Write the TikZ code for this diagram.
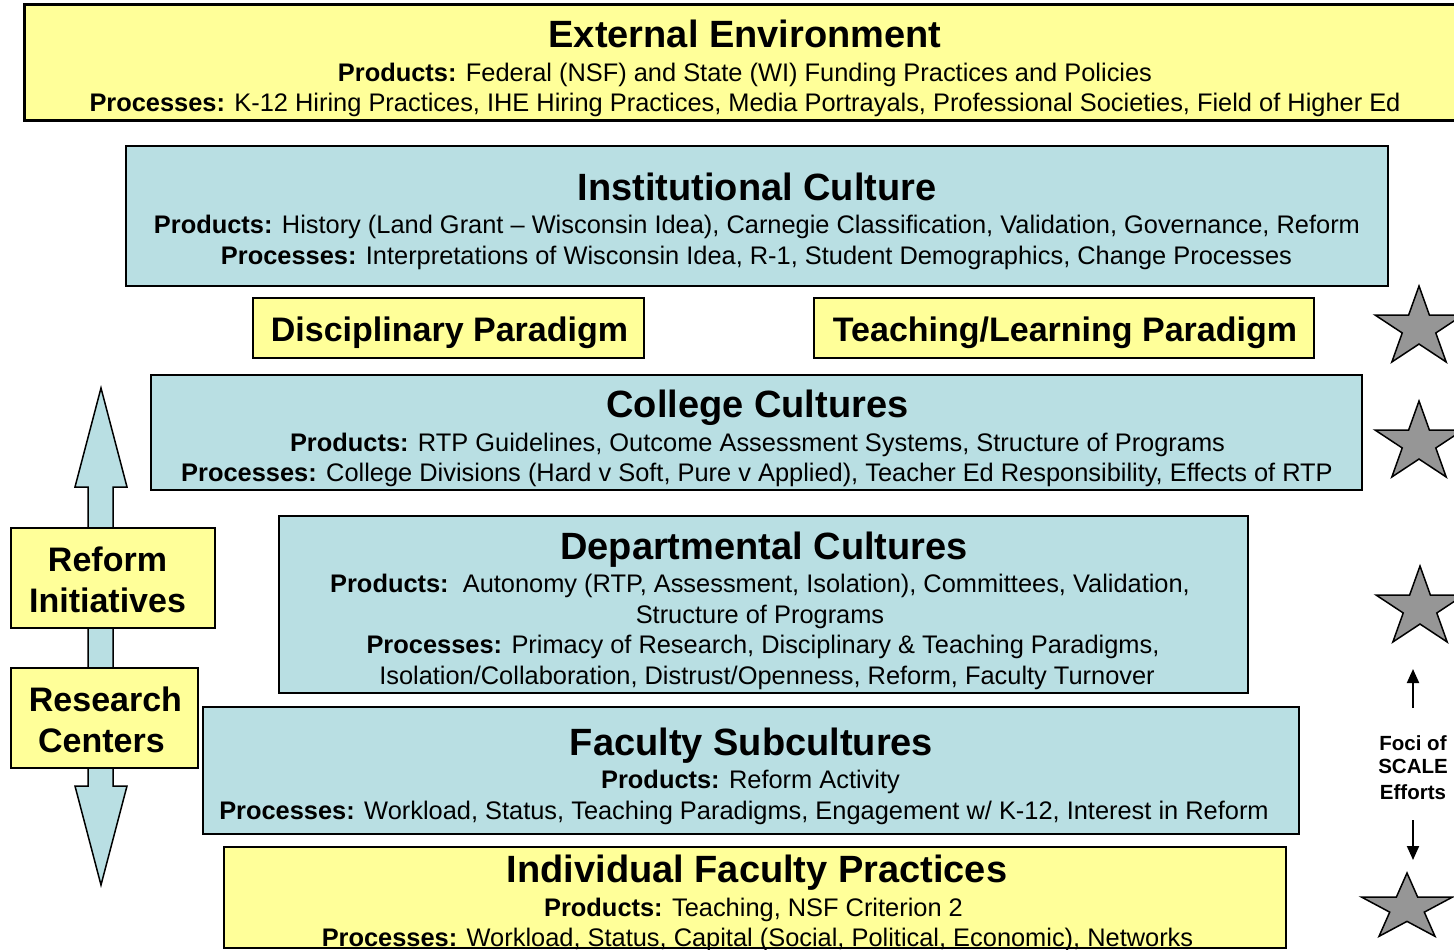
\documentclass[tikz,border=0pt]{standalone}
\usepackage{fontspec}
\setmainfont{Liberation Sans}
\usetikzlibrary{arrows.meta}
\definecolor{yel}{RGB}{255,255,153}
\definecolor{lblue}{RGB}{185,223,227}
\definecolor{stargray}{RGB}{150,150,150}
\newcommand{\titlef}{\fontsize{38}{40}\selectfont\bfseries}
\newcommand{\paraf}{\fontsize{34}{36}\selectfont\bfseries}
\newcommand{\bodyf}{\fontsize{25.4}{27}\selectfont}
\newcommand{\focif}{\fontsize{20.5}{22}\selectfont\bfseries}
\newcommand{\mystar}[4]{%
  \pgfmathsetmacro{\rin}{0.382*#3}%
  \filldraw[starst, shift={(#1,#2)}, xscale=#4]
    (-90:#3) -- (-54:\rin) -- (-18:#3) -- (18:\rin) -- (54:#3) -- (90:\rin)
    -- (126:#3) -- (162:\rin) -- (198:#3) -- (234:\rin) -- cycle;}
\begin{document}
\begin{tikzpicture}[x=1pt,y=-1pt,
  box/.style={draw=black, inner sep=0pt, outer sep=0pt},
  yelbox/.style={box, fill=yel, line width=2.5pt},
  bluebox/.style={box, fill=lblue, line width=1.5pt},
  txt/.style={anchor=base, inner sep=0pt, outer sep=0pt, text=black},
  ttl/.style={txt, font=\titlef},
  bdy/.style={txt, font=\bodyf},
  para/.style={txt, font=\paraf},
  foci/.style={txt, font=\focif},
  starst/.style={fill=stargray, draw=black, line width=1.5pt, line join=miter},
  smallarrow/.style={draw=black, line width=2pt, -{Triangle[width=12pt,length=14pt]}},
  dblarrow/.style={fill=lblue, draw=black, line width=1.5pt, line join=miter}]
\useasboundingbox (0,0) rectangle (1454,950);
\clip (0,0) rectangle (1454,950);

% boxes
\node[yelbox, line width=3pt, minimum width=1446pt, minimum height=115pt] (ext) at (747,62.5) {};
\node[bluebox, minimum width=1262pt, minimum height=140pt] (inst) at (757,216) {};
\node[yelbox, minimum width=391pt, minimum height=60pt] (disc) at (448.5,328) {};
\node[yelbox, minimum width=500pt, minimum height=60pt] (teach) at (1064,328) {};
\node[bluebox, minimum width=1211pt, minimum height=115pt] (coll) at (756.5,432.5) {};
\node[bluebox, minimum width=969pt, minimum height=177pt] (dept) at (763.5,604.5) {};
\node[bluebox, minimum width=1096pt, minimum height=127pt] (fac) at (751,770.5) {};
\node[yelbox, line width=1.5pt, minimum width=1062pt, minimum height=101pt] (indiv) at (755,897.5) {};

% double arrow
\filldraw[dblarrow] (101,388) -- (127,487) -- (113,487) -- (113,786) -- (127,786)
  -- (101,885) -- (75,786) -- (88,786) -- (88,487) -- (75,487) -- cycle;
\node[yelbox, minimum width=204pt, minimum height=100pt] (reform) at (113,578) {};
\node[yelbox, minimum width=187pt, minimum height=100pt] (research) at (104.5,718) {};

% texts
\node[ttl] (extT) at (745,47.6) {External Environment};
\node[bdy] (extP) at (745,81.1) {\textbf{Products:} Federal (NSF) and State (WI) Funding Practices and Policies};
\node[bdy] (extQ) at (745,111.1) {\textbf{Processes:} K-12 Hiring Practices, IHE Hiring Practices, Media Portrayals, Professional Societies, Field of Higher Ed};

\node[ttl] (instT) at (757,200.6) {Institutional Culture};
\node[bdy] (instP) at (757,233.1) {\textbf{Products:} History (Land Grant – Wisconsin Idea), Carnegie Classification, Validation, Governance, Reform};
\node[bdy] (instQ) at (756.5,264.1) {\textbf{Processes:} Interpretations of Wisconsin Idea, R-1, Student Demographics, Change Processes};

\node[para] (discT) at (449.5,341.2) {Disciplinary Paradigm};
\node[para] (teachT) at (1065,341.2) {Teaching/Learning Paradigm};

\node[ttl] (collT) at (757.5,417.6) {College Cultures};
\node[bdy] (collP) at (757.5,451.1) {\textbf{Products:} RTP Guidelines, Outcome Assessment Systems, Structure of Programs};
\node[bdy] (collQ) at (757,481.1) {\textbf{Processes:} College Divisions (Hard v Soft, Pure v Applied), Teacher Ed Responsibility, Effects of RTP};

\node[ttl] (deptT) at (764,559.6) {Departmental Cultures};
\node[bdy] (deptP1) at (760,592.1) {\textbf{Products:}\ \ Autonomy (RTP, Assessment, Isolation), Committees, Validation,};
\node[bdy] (deptP2) at (760,623.1) {Structure of Programs};
\node[bdy] (deptQ1) at (763,653.1) {\textbf{Processes:} Primacy of Research, Disciplinary \& Teaching Paradigms,};
\node[bdy] (deptQ2) at (767,684.1) {Isolation/Collaboration, Distrust/Openness, Reform, Faculty Turnover};

\node[ttl] (facT) at (751.5,755.6) {Faculty Subcultures};
\node[bdy] (facP) at (750.5,788.1) {\textbf{Products:} Reform Activity};
\node[bdy] (facQ) at (744,819.1) {\textbf{Processes:} Workload, Status, Teaching Paradigms, Engagement w/ K-12, Interest in Reform};

\node[ttl] (indT) at (757,882.6) {Individual Faculty Practices};
\node[bdy] (indP) at (753.5,916.1) {\textbf{Products:} Teaching, NSF Criterion 2};
\node[bdy] (indQ) at (757.5,946.1) {\textbf{Processes:} Workload, Status, Capital (Social, Political, Economic), Networks};

\node[para] (refT1) at (107.5,571.2) {Reform};
\node[para] (refT2) at (107.5,612.2) {Initiatives};
\node[para] (resT1) at (105.5,711.2) {Research};
\node[para] (resT2) at (101.5,752.2) {Centers};

\node[foci] (foci1) at (1413,750.3) {Foci of};
\node[foci] (foci2) at (1413,773.3) {SCALE};
\node[foci] (foci3) at (1413,799.3) {Efforts};

% stars
\mystar{1419}{328}{42}{1.1}
\mystar{1419}{443}{42}{1.1}
\mystar{1420}{608}{42}{1.1}
\mystar{1407}{908}{35}{1.36}

% small arrows
\coordinate (upS) at (1413,708);
\coordinate (upE) at (1413,669);
\coordinate (dnS) at (1413,820);
\coordinate (dnE) at (1413,860);
\draw[smallarrow] (upS) -- (upE);
\draw[smallarrow] (dnS) -- (dnE);
\end{tikzpicture}
\end{document}
